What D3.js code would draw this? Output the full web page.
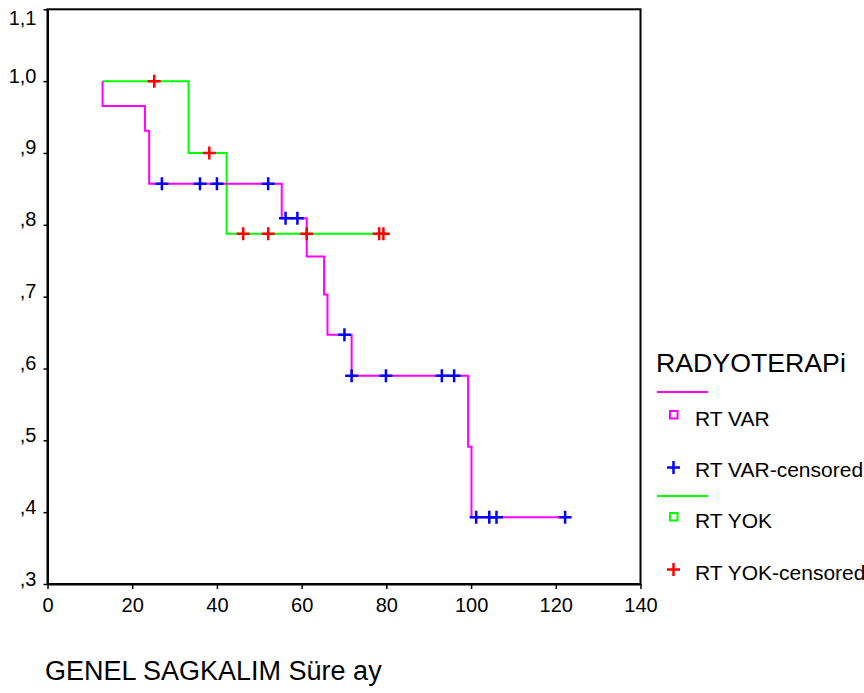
<!DOCTYPE html>
<html lang="en">
<head>
<meta charset="UTF-8">
<title>Kaplan-Meier RADYOTERAPi</title>
<script src="https://d3js.org/d3.v7.min.js"></script>
<style>
  body { margin: 0; background: #fff; }
  svg text { font-family: "Liberation Sans", Arial, sans-serif; fill: #000; }
</style>
</head>
<body>
<div id="chart"></div>
<script>
// x tick values and y tick labels
var xTicks = [0, 20, 40, 60, 80, 100, 120, 140];
var yTicks = [0.3, 0.4, 0.5, 0.6, 0.7, 0.8, 0.9, 1.0, 1.1];
var yTickLabels = [",3", ",4", ",5", ",6", ",7", ",8", ",9", "1,0", "1,1"];

// RT VAR step curve (time, cumulative survival)
var varTimes = [13, 13, 23, 24, 55.3, 61.2, 65.3, 66.1, 71.8, 99.3, 100.1, 122.2];
var varSurv = [1.0, 0.9655, 0.931, 0.857, 0.809, 0.756, 0.703, 0.647, 0.590, 0.491, 0.393, 0.393];
var varCensored = [27, 36, 40, 52.1, 56.2, 59, 70.1, 71.8, 79.9, 93.1, 96, 101.2, 104.3, 106, 122.2];

// RT YOK step curve
var yokTimes = [13, 33.3, 42.3, 80.1];
var yokSurv = [1.0, 0.9, 0.7875, 0.7875];
var yokCensored = [25.2, 38.2, 46.2, 52.1, 61.2, 78.3, 79.3];

var W = 864, H = 693;
var svg = d3.select("#chart").append("svg").attr("width", W).attr("height", H);

var x = d3.scaleLinear().domain([0, 140]).range([47.5, 640.5]);
var y = d3.scaleLinear().domain([0.3, 1.1]).range([584, 9.3]);

// plot frame
svg.append("rect")
  .attr("x", x(0)).attr("y", y(1.1))
  .attr("width", x(140) - x(0)).attr("height", y(0.3) - y(1.1))
  .attr("fill", "none").attr("stroke", "#000").attr("stroke-width", 2);

// x axis
var xAxis = svg.append("g")
  .attr("transform", "translate(0," + y(0.3) + ")")
  .call(d3.axisBottom(x).tickValues(xTicks).tickSize(5).tickSizeOuter(0).tickPadding(9));
xAxis.select(".domain").attr("stroke-width", 2);
xAxis.selectAll(".tick line").attr("stroke-width", 1.5);
xAxis.selectAll("text").style("font-size", "20px").attr("fill", "#000")
  .attr("dy", "0.71em");

// y axis
var yAxis = svg.append("g")
  .attr("transform", "translate(" + x(0) + ",0)")
  .call(d3.axisLeft(y).tickValues(yTicks).tickSize(4).tickSizeOuter(0).tickPadding(7)
    .tickFormat(function(d, i) { return yTickLabels[i]; }));
yAxis.select(".domain").attr("stroke-width", 2);
yAxis.selectAll(".tick line").attr("stroke-width", 1.5);
yAxis.selectAll("text").style("font-size", "20px").attr("fill", "#000")
  .attr("dy", function(d) { return d > 1.05 ? "0.75em" : "0.05em"; });

// axis title
svg.append("text")
  .attr("x", 45).attr("y", 680)
  .style("font-size", "27px")
  .text("GENEL SAGKALIM Süre ay");

var line = d3.line()
  .x(function(d) { return x(d[0]); })
  .y(function(d) { return y(d[1]); })
  .curve(d3.curveStepAfter);

function survAt(times, surv, t) {
  var v = surv[0];
  for (var i = 0; i < times.length; i++) {
    if (times[i] <= t) v = surv[i];
  }
  return v;
}

function drawCurve(times, surv, color) {
  svg.append("path")
    .datum(d3.zip(times, surv))
    .attr("d", line)
    .attr("fill", "none")
    .attr("stroke", color)
    .attr("stroke-width", 2);
}

function plus(px, py, color) {
  var s = 6.5;
  svg.append("path")
    .attr("d", "M" + (px - s) + "," + py + "H" + (px + s) + "M" + px + "," + (py - s) + "V" + (py + s))
    .attr("stroke", color).attr("stroke-width", 2.5).attr("fill", "none");
}

function drawCensored(times, surv, cens, color) {
  cens.forEach(function(t) {
    plus(x(t), y(survAt(times, surv, t)), color);
  });
}

drawCurve(yokTimes, yokSurv, "#00ff00");
drawCurve(varTimes, varSurv, "#ff00ff");
drawCensored(varTimes, varSurv, varCensored, "#0000ff");
drawCensored(yokTimes, yokSurv, yokCensored, "#ff0000");

// legend
var lg = svg.append("g");
lg.append("text").attr("x", 656).attr("y", 372).style("font-size", "26.7px").text("RADYOTERAPi");

function legLine(yy, color) {
  lg.append("line").attr("x1", 657).attr("x2", 708).attr("y1", yy).attr("y2", yy)
    .attr("stroke", color).attr("stroke-width", 2);
}
function legSquare(yy, color) {
  lg.append("rect").attr("x", 670).attr("y", yy - 4).attr("width", 7.5).attr("height", 7.5)
    .attr("fill", "none").attr("stroke", color).attr("stroke-width", 2);
}
function legText(yy, t) {
  lg.append("text").attr("x", 695).attr("y", yy).style("font-size", "21px").text(t);
}

legLine(392, "#ff00ff");
legSquare(415, "#ff00ff");
legText(426, "RT VAR");
plus(673.5, 467.5, "#0000ff");
legText(477, "RT VAR-censored");
legLine(496, "#00ff00");
legSquare(517, "#00ff00");
legText(528, "RT YOK");
plus(673.5, 569.5, "#ff0000");
legText(580, "RT YOK-censored");
</script>
</body>
</html>
